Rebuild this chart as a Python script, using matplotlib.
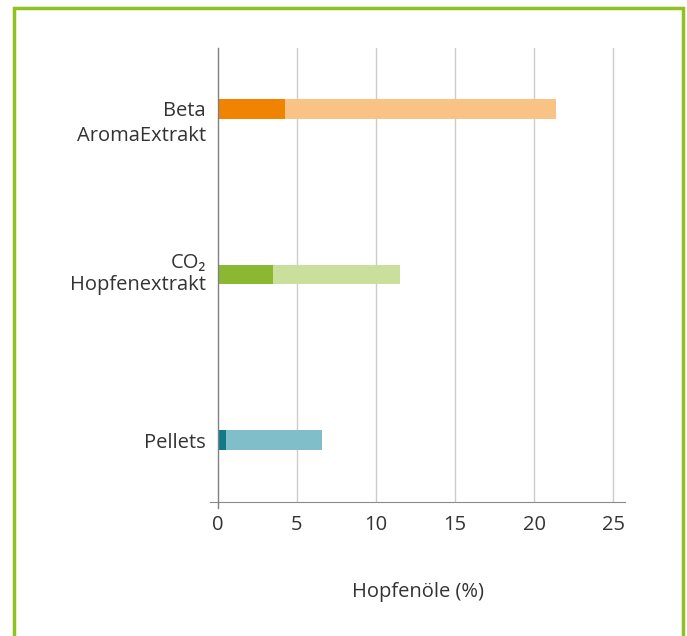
import matplotlib.pyplot as plt
import matplotlib.patches as patches
import matplotlib.transforms as mtransforms

plt.rcParams['font.family'] = ['Open Sans', 'DejaVu Sans']

categories = ['Pellets', 'CO₂\nHopfenextrakt', 'Beta\nAromaExtrakt']
low_vals = [0.5, 3.5, 4.25]
high_vals = [6.6, 11.5, 21.4]
dark_cols = ['#0f7b89', '#8ab833', '#f08400']
light_cols = ['#80bfc9', '#c9df9b', '#f9c385']
xticks = [0, 5, 10, 15, 20, 25]

fig = plt.figure(figsize=(6.87, 6.36), dpi=100)
ax = fig.add_axes([210/687, (636-502)/636, 415/687, 454/636])

pos = list(range(len(categories)))
ax.barh(pos, high_vals, height=0.12, color=light_cols, zorder=3)
ax.barh(pos, low_vals, height=0.12, color=dark_cols, zorder=4)

ax.set_xlim(-0.5, 25.75)
ax.set_ylim(-0.373, 2.367)
ax.set_xticks(xticks)
ax.set_yticks(pos)
ax.set_yticklabels(categories, ha='right')
for x in xticks[1:]:
    ax.axvline(x, color='#cccccc', lw=1, zorder=1)
ax.axvline(0, ymin=-0.013, ymax=1, color='#808080', lw=1, zorder=5, clip_on=False)

for s in ['top', 'right', 'left']:
    ax.spines[s].set_visible(False)
ax.spines['bottom'].set_color('#8a8a8a')
ax.tick_params(axis='both', length=0, labelsize=14.5, colors='#333333')
ax.tick_params(axis='x', pad=9)
ax.tick_params(axis='y', pad=3)
ax.set_xlabel('Hopfenöle (%)', fontsize=14.5, color='#333333', labelpad=34)

labs = ax.get_yticklabels()
labs[1].set_linespacing(1.15)
labs[2].set_linespacing(1.3)
# label offsets so the text blocks sit like in the original
labs[1].set_transform(labs[1].get_transform() + mtransforms.ScaledTranslation(0, 3/72, fig.dpi_scale_trans))
labs[2].set_transform(labs[2].get_transform() + mtransforms.ScaledTranslation(0, -7/72, fig.dpi_scale_trans))

border = patches.Rectangle((14/687, -0.05), 669/687, 1.05 - 8/636, transform=fig.transFigure,
                           fill=False, edgecolor='#8dc21f', lw=2.5, clip_on=False)
fig.patches.append(border)

fig.savefig('out.png', dpi=100)
